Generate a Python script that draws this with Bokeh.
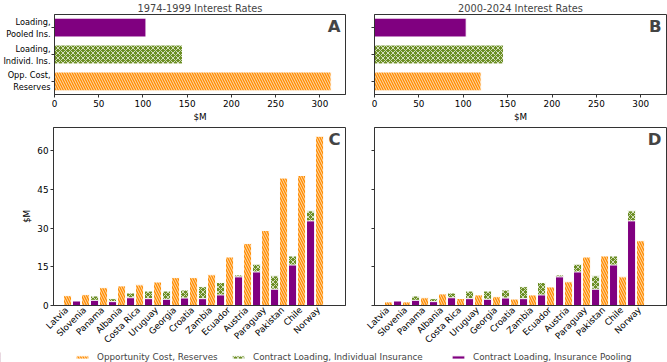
import math
from bokeh.plotting import figure
from bokeh.models import Range1d, FixedTicker, Label, Legend, LegendItem
from bokeh.layouts import column, row
from bokeh.embed import file_html
from bokeh.resources import INLINE

# ---------------- data ----------------
countries = ["Latvia", "Slovenia", "Panama", "Albania", "Costa Rica", "Uruguay",
             "Georgia", "Croatia", "Zambia", "Ecuador", "Austria", "Paraguay",
             "Pakistan", "Chile", "Norway"]
opp_cost_1974_1999 = [3.8, 4.2, 6.9, 7.6, 8.0, 9.1, 10.8, 10.8, 11.9, 18.8, 24.0, 29.1, 49.4, 50.4, 65.6]
opp_cost_2000_2024 = [1.4, 1.4, 3.0, 4.5, 2.7, 4.1, 3.4, 2.5, 4.1, 7.2, 9.2, 18.8, 19.2, 11.1, 25.1]
loading_individual = [0.0, 1.5, 3.7, 2.65, 4.85, 5.6, 5.6, 6.0, 7.3, 8.9, 11.85, 16.0, 11.5, 19.2, 36.7]
loading_pooled = [0.0, 1.75, 2.0, 1.5, 3.0, 2.65, 2.4, 2.9, 2.65, 4.1, 11.1, 13.0, 6.3, 15.7, 32.8]

total_labels = ["Opp. Cost,\nReserves", "Loading,\nIndivid. Ins.", "Loading,\nPooled Ins."]
totals_1974_1999 = [312.7, 144.7, 103.4]
totals_2000_2024 = [120.1, 145.3, 103.3]

x_ticks_top = [0, 50, 100, 150, 200, 250, 300]
y_ticks_bottom = [0, 15, 30, 45, 60]

legend_labels = ["Opportunity Cost, Reserves", "Contract Loading, Individual Insurance",
                 "Contract Loading, Insurance Pooling"]

# ---------------- style ----------------
FONT = "DejaVu Sans"
ORANGE = "#ff8c00"
GREEN = "#6b8e23"
PURPLE = "#800080"
AX = "#333333"
FS = "8.8px"
LABEL_SHIFT = 0.45  # rotated country labels are centred (matplotlib style)

ORANGE_STYLE = dict(fill_color=ORANGE, hatch_pattern="\\", hatch_color="white",
                    hatch_scale=5, hatch_weight=0.7, line_color="white", line_width=1)
GREEN_STYLE = dict(fill_color=GREEN, hatch_pattern="x", hatch_color="white",
                   hatch_scale=5, hatch_weight=0.7, line_color="white", line_width=1)
PURPLE_STYLE = dict(fill_color=PURPLE, line_color="white", line_width=1)


def style(p):
    p.xgrid.visible = False
    p.ygrid.visible = False
    p.outline_line_color = AX
    p.outline_line_width = 1
    p.background_fill_color = "white"
    p.border_fill_color = "white"
    for ax in p.axis:
        ax.axis_line_color = AX
        ax.major_tick_line_color = AX
        ax.major_tick_out = 3
        ax.major_tick_in = 0
        ax.minor_tick_line_color = None
        ax.major_label_text_font = FONT
        ax.major_label_text_font_size = FS
        ax.major_label_text_color = "black"
        ax.axis_label_text_font = FONT
        ax.axis_label_text_font_size = FS
        ax.axis_label_text_font_style = "normal"
        ax.axis_label_text_color = "black"
        ax.major_label_standoff = 2
        ax.axis_label_standoff = 2


def top_panel(vals, title, letter, show_labels, width, left, right):
    p = figure(width=width, height=124, x_range=Range1d(0, 329), y_range=Range1d(-0.485, 2.485),
               output_backend="svg", toolbar_location=None,
               min_border_left=left, min_border_right=right, min_border_top=13, min_border_bottom=24)
    style(p)
    p.hbar(y=[0], right=[vals[0]], left=0, height=0.7, **ORANGE_STYLE)
    p.hbar(y=[1], right=[vals[1]], left=0, height=0.7, **GREEN_STYLE)
    p.hbar(y=[2], right=[vals[2]], left=0, height=0.7, **PURPLE_STYLE)
    p.title.text = title
    p.title.align = "center"
    p.title.text_font = FONT
    p.title.text_font_size = "9.8px"
    p.title.text_font_style = "normal"
    p.title.standoff = 1
    p.xaxis.ticker = FixedTicker(ticks=x_ticks_top)
    p.xaxis.axis_label = "$M"
    p.yaxis.ticker = FixedTicker(ticks=[0, 1, 2])
    p.yaxis.major_label_standoff = 1
    p.yaxis.major_label_text_font_size = "8.2px"
    if show_labels:
        p.yaxis.major_label_overrides = {i: t for i, t in enumerate(total_labels)}
    else:
        p.yaxis.major_label_overrides = {i: "" for i in range(3)}
    p.add_layout(Label(x=329, y=2.485, x_offset=-5, y_offset=-2, text=letter,
                       text_align="right", text_baseline="top", text_font=FONT,
                       text_font_size="16.5px", text_font_style="bold"))
    return p


def bottom_panel(opp, letter, show_labels, width, left, right):
    p = figure(width=width, height=227, x_range=Range1d(-0.28, 15.94), y_range=Range1d(0, 69),
               output_backend="svg", toolbar_location=None,
               min_border_left=left, min_border_right=right, min_border_top=3, min_border_bottom=46)
    style(p)
    xs = list(range(len(countries)))
    p.vbar(x=[i + 0.5 for i in xs], top=opp, bottom=0, width=0.45, **ORANGE_STYLE)
    p.vbar(x=xs, top=loading_individual, bottom=0, width=0.45, **GREEN_STYLE)
    p.vbar(x=xs, top=loading_pooled, bottom=0, width=0.45, **PURPLE_STYLE)
    label_pos = [i + LABEL_SHIFT for i in xs]
    p.xaxis.ticker = FixedTicker(ticks=label_pos)
    p.xaxis.major_label_overrides = {pos: c for pos, c in zip(label_pos, countries)}
    p.xaxis.major_label_orientation = math.pi / 4
    p.xaxis.major_tick_line_color = None
    p.xaxis.major_tick_out = 0
    p.xaxis.major_label_standoff = 3
    p.yaxis.ticker = FixedTicker(ticks=y_ticks_bottom)
    if show_labels:
        p.yaxis.axis_label = "$M"
    else:
        p.yaxis.major_label_overrides = {t: "" for t in y_ticks_bottom}
    p.add_layout(Label(x=15.94, y=69, x_offset=-5, y_offset=-2, text=letter,
                       text_align="right", text_baseline="top", text_font=FONT,
                       text_font_size="16.5px", text_font_style="bold"))
    return p


pA = top_panel(totals_1974_1999, "1974-1999 Interest Rates", "A", True, 360, 53, 15)
pB = top_panel(totals_2000_2024, "2000-2024 Interest Rates", "B", False, 307, 14, 1)
pC = bottom_panel(opp_cost_1974_1999, "C", True, 360, 53, 15)
pD = bottom_panel(opp_cost_2000_2024, "D", False, 307, 14, 1)

# legend strip
pL = figure(width=667, height=11, x_range=Range1d(0, 1), y_range=Range1d(0, 1),
            output_backend="svg", toolbar_location=None,
            min_border_left=0, min_border_right=0, min_border_top=0, min_border_bottom=0)
pL.xaxis.visible = False
pL.yaxis.visible = False
pL.xgrid.visible = False
pL.ygrid.visible = False
pL.outline_line_color = None
r1 = pL.vbar(x=[-5], top=[1], width=0.1, **ORANGE_STYLE)
r2 = pL.vbar(x=[-5], top=[1], width=0.1, **GREEN_STYLE)
r3 = pL.vbar(x=[-5], top=[1], width=0.1, **PURPLE_STYLE)
for lab, rend, xloc in zip(legend_labels, [r1, r2, r3], [74, 230, 450]):
    lg = Legend(items=[LegendItem(label=lab, renderers=[rend])],
                orientation="horizontal", location=(xloc, 0), padding=0, margin=0,
                spacing=0, label_standoff=7, glyph_width=16, glyph_height=4,
                label_height=10, label_text_font=FONT, label_text_font_size=FS,
                border_line_color=None, background_fill_alpha=0)
    pL.add_layout(lg, "center")

layout = column(row(pA, pB), row(pC, pD), pL)

open("out.html", "w").write(file_html(layout, INLINE))
